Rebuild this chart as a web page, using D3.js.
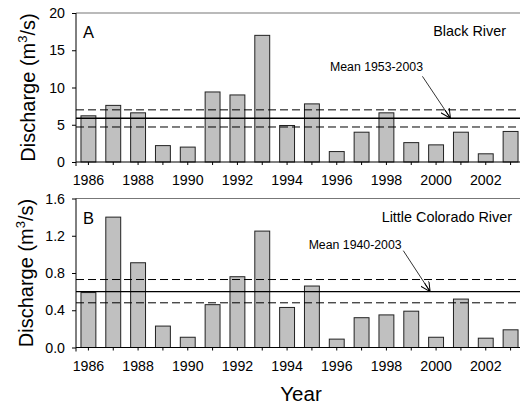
<!DOCTYPE html>
<html>
<head>
<meta charset="utf-8">
<script src="https://cdn.jsdelivr.net/npm/d3@7"></script>
<style>
body { margin: 0; background: #fff; }
text { font-family: "Liberation Sans", Arial, sans-serif; fill: #000; }
</style>
</head>
<body>
<div id="chart"></div>
<script>
var years = d3.range(1986, 2004);
var blackRiver = [6.2, 7.6, 6.6, 2.2, 2.0, 9.4, 9.0, 17.0, 4.9, 7.8, 1.4, 4.0, 6.6, 2.6, 2.3, 4.0, 1.1, 4.1];
var littleColorado = [0.59, 1.40, 0.91, 0.23, 0.11, 0.46, 0.76, 1.25, 0.43, 0.66, 0.09, 0.32, 0.35, 0.39, 0.11, 0.52, 0.10, 0.19];
var blackMean = [5.87, 7.0, 4.7];       // mean, upper, lower
var littleMean = [0.60, 0.73, 0.48];
var blackTicks = [0, 5, 10, 15, 20];
var littleTicks = [0, 0.4, 0.8, 1.2, 1.6];
var yearLabels = [1986, 1988, 1990, 1992, 1994, 1996, 1998, 2000, 2002];

var width = 520, height = 406;
var left = 76, right = 523;

var svg = d3.select("#chart")
            .append("svg")
            .attr("width", width)
            .attr("height", height);

svg.append("defs").append("marker")
    .attr("id", "arrow")
    .attr("viewBox", "0 0 10 10")
    .attr("refX", 10).attr("refY", 5)
    .attr("markerWidth", 10).attr("markerHeight", 10)
    .attr("markerUnits", "userSpaceOnUse")
    .attr("orient", "auto")
    .append("path")
    .attr("d", "M0,0L10,5L0,10M0,5L10,5")
    .attr("fill", "none")
    .attr("stroke", "#000")
    .attr("stroke-width", 1);

var x = d3.scaleBand()
        .domain(years)
        .range([left, right])
        .paddingInner(0.4)
        .paddingOuter(0.2);

// position for a fractional year (for annotations)
function xf(yr) {
    return x(1986) + x.bandwidth() / 2 + (yr - 1986) * x.step();
}

function panel(opt) {
    var g = svg.append("g");
    var y = d3.scaleLinear().domain([0, opt.max]).range([opt.bottom, opt.top]);

    // top frame line
    g.append("line")
        .attr("x1", left).attr("x2", width)
        .attr("y1", opt.top).attr("y2", opt.top)
        .attr("stroke", "#777").attr("stroke-width", 1.2);

    g.selectAll("rect")
        .data(years)
        .join("rect")
        .attr("x", d => x(d))
        .attr("y", (d, i) => y(opt.values[i]))
        .attr("width", x.bandwidth())
        .attr("height", (d, i) => y(0) - y(opt.values[i]))
        .attr("fill", "#c0c0c0")
        .attr("stroke", "#222")
        .attr("stroke-width", 1);

    // mean and bounds
    g.selectAll(".mean")
        .data(opt.mean)
        .join("line")
        .attr("x1", left).attr("x2", width)
        .attr("y1", d => y(d)).attr("y2", d => y(d))
        .attr("stroke", "#000")
        .attr("stroke-width", (d, i) => i == 0 ? 1.4 : 1)
        .attr("stroke-dasharray", (d, i) => i == 0 ? null : "8,4");

    var ya = g.append("g")
        .attr("transform", "translate(" + left + ",0)")
        .call(d3.axisLeft(y).tickValues(opt.ticks).tickSize(4).tickPadding(7)
              .tickFormat(opt.fmt));
    ya.select(".domain").attr("d", "M0," + (opt.bottom + 4) + "V" + opt.top);

    var xa = g.append("g")
        .attr("transform", "translate(0," + opt.bottom + ")")
        .call(d3.axisBottom(x).tickSize(3).tickPadding(10)
              .tickFormat(d => yearLabels.indexOf(d) >= 0 ? d : ""));
    xa.select(".domain").attr("d", "M" + left + ",0H" + width);

    svg.selectAll(".tick text").style("font-size", "14.2px")
        .style("font-family", "'Liberation Sans', Arial, sans-serif");
    svg.selectAll(".domain, .tick line").attr("stroke", "#000");

    g.append("text")
        .attr("x", 83).attr("y", opt.top + 25)
        .style("font-size", "16.5px")
        .text(opt.letter);

    g.append("text")
        .attr("x", opt.nameX).attr("y", opt.top + 23)
        .attr("text-anchor", "end")
        .style("font-size", "14.4px")
        .text(opt.name);

    g.append("text")
        .attr("x", xf(opt.label[0])).attr("y", y(opt.label[1]))
        .attr("text-anchor", "middle")
        .style("font-size", "12.3px")
        .text(opt.meanText);

    g.append("line")
        .attr("x1", xf(opt.arrow[0])).attr("y1", y(opt.arrow[1]))
        .attr("x2", xf(opt.arrow[2])).attr("y2", y(opt.mean[0]))
        .attr("stroke", "#000").attr("stroke-width", 0.8)
        .attr("marker-end", "url(#arrow)");

    var t = g.append("text")
        .attr("transform", "translate(" + opt.titleX + "," + ((opt.top + opt.bottom) / 2) + ")rotate(-90)")
        .attr("text-anchor", "middle")
        .style("font-size", "20px");
    t.append("tspan").text("Discharge (m");
    t.append("tspan").attr("dy", -8).style("font-size", "13px").text("3");
    t.append("tspan").attr("dy", 8).text("/s)");
}

panel({
    top: 13, bottom: 162, max: 20,
    values: blackRiver, mean: blackMean, ticks: blackTicks,
    fmt: d3.format("d"), letter: "A", name: "Black River", nameX: 506,
    meanText: "Mean 1953-2003", label: [1997.6, 12.2], arrow: [1999.45, 11.5, 2000.58],
    titleX: 35
});

panel({
    top: 198.5, bottom: 347.5, max: 1.6,
    values: littleColorado, mean: littleMean, ticks: littleTicks,
    fmt: d3.format(".1f"), letter: "B", name: "Little Colorado River", nameX: 512,
    meanText: "Mean 1940-2003", label: [1996.74, 1.06], arrow: [1998.68, 1.04, 1999.76],
    titleX: 33
});

svg.append("text")
    .attr("x", 301).attr("y", 401)
    .attr("text-anchor", "middle")
    .style("font-size", "20.5px")
    .text("Year");
</script>
</body>
</html>
